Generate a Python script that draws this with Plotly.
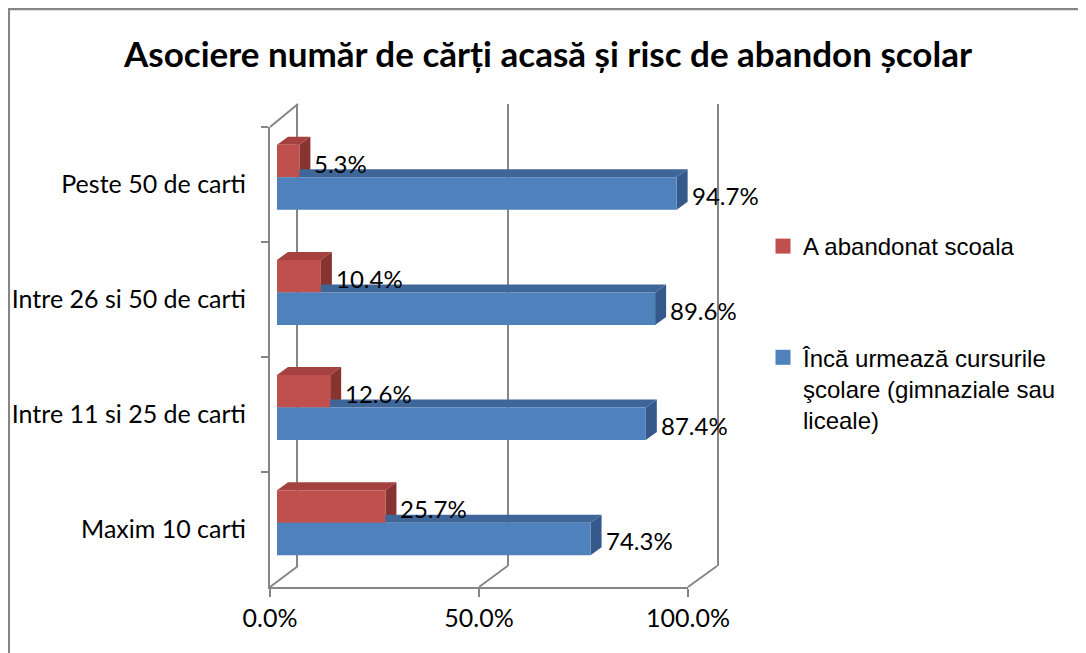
import plotly.graph_objects as go

# data (percent of pupils)
categories = ["Peste 50 de carti", "Intre 26 si 50 de carti", "Intre 11 si 25 de carti", "Maxim 10 carti"]
abandoned = [5.3, 10.4, 12.6, 25.7]
enrolled = [94.7, 89.6, 87.4, 74.3]
series_names = ["A abandonat scoala", "Încă urmează cursurile<br>şcolare (gimnaziale sau<br>liceale)"]
x_ticks = [0, 50, 100]

W, H = 1086, 653
OFF = 8   # the page body adds an 8px margin around the figure
CAL = "Lato, 'Open Sans', sans-serif"
ARIAL = "'Liberation Sans', Arial, sans-serif"
GRAY = "#868686"

# pixel boxes (screen coords) of the three planes of the fake 3D chart
BACK = (298, 717, 104, 566)    # x0, x1, top, bottom
BARS = (277, 699, 119.6, 580.4)
FRONT = (270, 688, 127, 587)

BARGAP = 0.436
DEPTH_X, DEPTH_Y = 11, 8       # bar depth in px

series = [
    dict(name=series_names[0], values=abandoned, front="#C0504D", top="#A5423F", side="#87332F"),
    dict(name=series_names[1], values=enrolled, front="#4F81BD", top="#3E6698", side="#34598A"),
]


def fx(px):
    return (px - OFF) / W


def fy(py):
    return 1 - (py - OFF) / H


def xdom(box):
    return [fx(box[0]), fx(box[1])]


def ydom(box):
    return [fy(box[3]), fy(box[2])]


def xpaper(box, v):
    d = xdom(box)
    return d[0] + v / 100 * (d[1] - d[0])


fig = go.Figure()

# back wall (first subplot so it sits behind the bars)
fig.add_trace(go.Scatter(x=[], y=[], xaxis="x", yaxis="y", showlegend=False, hoverinfo="skip"))

# bars
for k, s in enumerate(series):
    fig.add_trace(go.Bar(
        x=s["values"], y=categories, orientation="h", name=s["name"],
        marker=dict(color=s["front"], line=dict(width=0)),
        xaxis="x2", yaxis="y2", showlegend=False, hoverinfo="skip",
    ))

# legend entries with larger square swatches
for k, s in enumerate(series):
    fig.add_trace(go.Scatter(
        x=[None], y=[None], mode="markers", name=s["name"],
        marker=dict(symbol="square", size=15, color=s["front"]),
        xaxis="x2", yaxis="y2", legendgroup=str(k), hoverinfo="skip",
    ))

# front axes
fig.add_trace(go.Scatter(x=enrolled, y=categories, mode="markers", marker=dict(opacity=0),
                         xaxis="x3", yaxis="y3", showlegend=False, hoverinfo="skip"))

# 3D faces of the bars
px_x = (BARS[1] - BARS[0]) / 100
px_y = (BARS[3] - BARS[2]) / len(categories)
dx, dy = DEPTH_X / px_x, DEPTH_Y / px_y
bw = (1 - BARGAP) / len(series)
shapes = []
for k, s in enumerate(series):
    off = -bw / 2 + k * bw
    for i, v in enumerate(s["values"]):
        c = i + off
        yt, yb = c - bw / 2, c + bw / 2
        shapes.append(dict(type="path", xref="x2", yref="y2", layer="below",
                           path=f"M0,{yt} L{v},{yt} L{v+dx},{yt-dy} L{dx},{yt-dy} Z",
                           fillcolor=s["top"], line=dict(width=0)))
        shapes.append(dict(type="path", xref="x2", yref="y2", layer="below",
                           path=f"M{v},{yt} L{v+dx},{yt-dy} L{v+dx},{yb-dy} L{v},{yb} Z",
                           fillcolor=s["side"], line=dict(width=0)))

# floor and wall edges
line = dict(color=GRAY, width=2)
for t in x_ticks:
    shapes.append(dict(type="line", xref="paper", yref="paper",
                       x0=xpaper(FRONT, t), y0=ydom(FRONT)[0], x1=xpaper(BACK, t), y1=ydom(BACK)[0], line=line))
shapes.append(dict(type="line", xref="paper", yref="paper",
                   x0=xpaper(FRONT, 0), y0=ydom(FRONT)[1], x1=xpaper(BACK, 0), y1=ydom(BACK)[1], line=line))
# chart border
shapes.append(dict(type="rect", xref="paper", yref="paper", x0=fx(8.8), y0=-0.05, x1=1.05, y1=fy(9),
                   line=dict(color=GRAY, width=2.5)))

# data labels
annotations = []
for k, s in enumerate(series):
    for cat, v in zip(categories, s["values"]):
        annotations.append(dict(x=v, y=cat, xref="x2", yref="y2", text=f"{v:.1f}%", showarrow=False,
                                xanchor="left", xshift=13, yshift=14 if k == 0 else -18,
                                font=dict(family=CAL, size=24, color="black")))

fig.update_layout(
    width=W, height=H,
    margin=dict(l=0, r=0, t=0, b=0, pad=0, autoexpand=False),
    paper_bgcolor="white", plot_bgcolor="rgba(0,0,0,0)",
    barmode="group", bargap=BARGAP, bargroupgap=0,
    hovermode=False,
    title=dict(text="<b>Asociere număr de cărți acasă și risc de abandon școlar</b>",
               x=fx(548), xanchor="center", y=fy(55), yanchor="middle", yref="container",
               font=dict(family=CAL, size=35, color="black")),
    legend=dict(x=fx(763), xanchor="left", y=fy(224), yanchor="top",
                font=dict(family=ARIAL, size=24, color="black"),
                tracegroupgap=77, valign="top", traceorder="grouped", bgcolor="rgba(0,0,0,0)"),
    xaxis=dict(domain=xdom(BACK), range=[0, 100], tickvals=x_ticks, showgrid=True, gridcolor=GRAY,
               gridwidth=2, showticklabels=False, ticks="", zeroline=False, anchor="y", automargin=False),
    yaxis=dict(domain=ydom(BACK), range=[0, 1], showgrid=False, showticklabels=False, zeroline=False,
               showline=True, mirror=True, linecolor=GRAY, linewidth=2, anchor="x", automargin=False),
    xaxis2=dict(domain=xdom(BARS), range=[0, 100], visible=False, anchor="y2", automargin=False),
    yaxis2=dict(domain=ydom(BARS), type="category", categoryorder="array", categoryarray=categories,
                range=[len(categories) - 0.5, -0.5], visible=False, anchor="x2", automargin=False),
    xaxis3=dict(domain=xdom(FRONT), range=[0, 100], tickvals=x_ticks,
                ticktext=[f"{t:.1f}%" for t in x_ticks],
                showgrid=False, zeroline=False, showline=True, linecolor=GRAY, linewidth=2,
                ticks="outside", ticklen=8, tickwidth=2, tickcolor=GRAY, automargin=False,
                tickfont=dict(family=CAL, size=25, color="black"), anchor="y3"),
    yaxis3=dict(domain=ydom(FRONT), type="category", categoryorder="array", categoryarray=categories,
                range=[len(categories) - 0.5, -0.5], showgrid=False, zeroline=False, showline=True,
                linecolor=GRAY, linewidth=2, ticks="outside", ticklen=7, tickwidth=2, tickcolor=GRAY,
                tickson="boundaries", ticklabelstandoff=17, automargin=False,
                tickfont=dict(family=CAL, size=25, color="black"), anchor="x3"),
    shapes=shapes,
    annotations=annotations,
)

fig.write_html("out.html")
